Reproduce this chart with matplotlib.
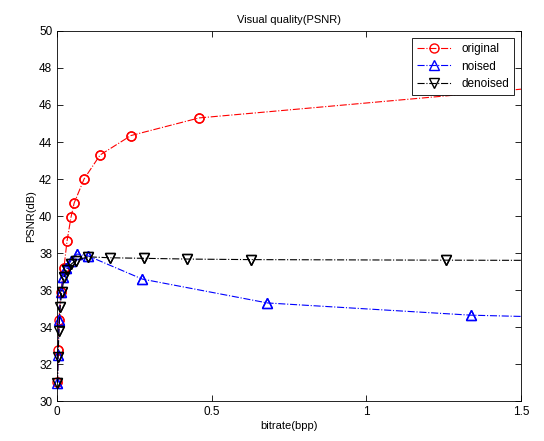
import numpy as np
import matplotlib
matplotlib.use('Agg')
import matplotlib.pyplot as plt

# data
orig_x = [0.001, 0.003, 0.006, 0.012, 0.022, 0.032, 0.045, 0.055, 0.087, 0.139, 0.239, 0.459, 1.8]
orig_y = [31.05, 32.75, 34.4, 35.9, 37.2, 38.65, 39.95, 40.7, 42.0, 43.3, 44.35, 45.3, 47.3]

noised_x = [0.001, 0.003, 0.006, 0.012, 0.020, 0.030, 0.045, 0.065, 0.100, 0.275, 0.68, 1.338, 1.7]
noised_y = [31.0, 32.5, 34.4, 35.9, 36.7, 37.2, 37.6, 37.95, 37.85, 36.6, 35.31, 34.65, 34.5]

denoised_x = [0.001, 0.003, 0.006, 0.010, 0.015, 0.023, 0.031, 0.045, 0.060, 0.100, 0.170, 0.280, 0.421, 0.627, 1.258, 1.8]
denoised_y = [31.0, 32.4, 33.8, 35.1, 35.9, 36.7, 37.1, 37.4, 37.6, 37.8, 37.75, 37.72, 37.68, 37.65, 37.62, 37.6]

plt.rcParams['font.family'] = ['Liberation Sans', 'DejaVu Sans']
plt.rcParams['font.size'] = 8

fig = plt.figure(figsize=(5.44, 4.41), dpi=100)
ax = fig.add_axes([0.105, 0.09, 0.853, 0.84])

series = [
    (orig_x, orig_y, 'r', 'o', 'original'),
    (noised_x, noised_y, 'b', '^', 'noised'),
    (denoised_x, denoised_y, 'k', 'v', 'denoised'),
]
for xs, ys, c, m, name in series:
    ax.plot(xs, ys, color=c, ls='-.', lw=0.8, marker=m, mfc='none', ms=6.5, label=name)
    # matlab style: markers at the axis edge are not clipped
    xs = np.array(xs)
    ys = np.array(ys)
    keep = xs <= 1.5
    ax.plot(xs[keep], ys[keep], ls='none', marker=m, color=c, mfc='none', ms=6.5, clip_on=False)

ax.set_xlim(0, 1.5)
ax.set_ylim(30, 50)
ax.set_xticks([0, 0.5, 1, 1.5])
ax.set_xticklabels(['0', '0.5', '1', '1.5'])
ax.set_yticks(np.arange(30, 51, 2))
ax.tick_params(direction='in', top=True, right=True, length=4, width=0.6, labelsize=8.5)
for s in ax.spines.values():
    s.set_linewidth(0.6)

ax.set_xlabel('bitrate(bpp)', labelpad=2)
ax.set_ylabel('PSNR(dB)', labelpad=2)
ax.set_title('Visual quality(PSNR)', fontsize=8, pad=6)

leg = ax.legend(loc='upper right', fancybox=False, edgecolor='black', framealpha=1,
                fontsize=8.5, handlelength=3, borderaxespad=0.6)
leg.get_frame().set_linewidth(0.6)

fig.savefig('out.png', dpi=100)
